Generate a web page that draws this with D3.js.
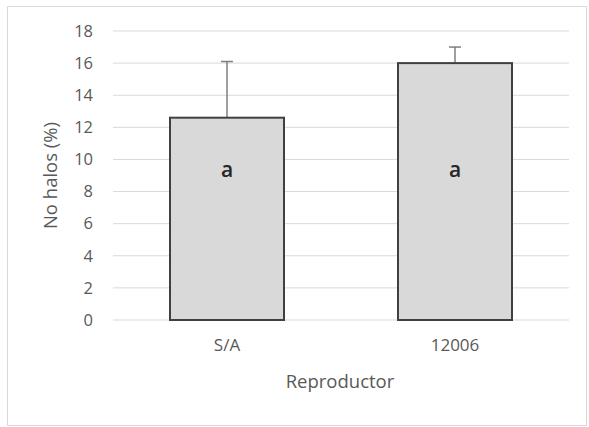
<!DOCTYPE html>
<html>
<head>
<meta charset="utf-8">
<script src="https://cdn.jsdelivr.net/npm/d3@7"></script>
<style>
  body { margin: 0; background: #fff; }
  text { font-family: "Open Sans", "Liberation Sans", sans-serif; }
</style>
</head>
<body>
<svg width="589" height="427"></svg>
<script>
const categories = ["S/A", "12006"]
const values = [12.6, 16.0]
const errors = [3.5, 1.0]
const letters = ["a", "a"]
const yTicks = [0, 2, 4, 6, 8, 10, 12, 14, 16, 18]

const svg = d3.select('svg')
const margin = { top: 31, left: 113, right: 20, bottom: 107 }
const width = 589, height = 427

// outer frame
svg.append('rect')
    .attr('x', 7.5).attr('y', 6.5)
    .attr('width', 579).attr('height', 419)
    .attr('fill', 'none').attr('stroke', '#d9d9d9').attr('stroke-width', 1)

const x = d3.scaleBand().domain(categories)
    .range([margin.left, width - margin.right]).paddingInner(0.5).paddingOuter(0.25)
const y = d3.scaleLinear().domain([0, 18]).range([height - margin.bottom, margin.top])

// gridlines
svg.append('g').selectAll('line').data(yTicks).enter().append('line')
    .attr('x1', margin.left).attr('x2', width - margin.right)
    .attr('y1', d => y(d)).attr('y2', d => y(d))
    .attr('stroke', '#d9d9d9').attr('stroke-width', 1)

// y axis labels
const yAxis = svg.append('g').attr('transform', `translate(${margin.left - 20},0)`)
    .call(d3.axisLeft(y).tickValues(yTicks).tickSize(0).tickPadding(0))
yAxis.select('.domain').remove()
yAxis.selectAll('text').attr('font-size', 16.5).attr('fill', '#595959')
    .attr('font-family', '"Open Sans", sans-serif')

// x axis labels
const xAxis = svg.append('g').attr('transform', `translate(0,${y(0)})`)
    .call(d3.axisBottom(x).tickSize(0).tickPadding(19))
xAxis.select('.domain').remove()
xAxis.selectAll('text').attr('font-size', 17).attr('fill', '#595959')
    .attr('font-family', '"Open Sans", sans-serif')

// error bars
const eb = svg.append('g').selectAll('g').data(categories).enter().append('g')
eb.append('line')
    .attr('x1', d => x(d) + x.bandwidth() / 2).attr('x2', d => x(d) + x.bandwidth() / 2)
    .attr('y1', (d, i) => y(values[i])).attr('y2', (d, i) => y(values[i] + errors[i]))
    .attr('stroke', '#7f7f7f').attr('stroke-width', 1.5)
eb.append('line')
    .attr('x1', d => x(d) + x.bandwidth() / 2 - 6).attr('x2', d => x(d) + x.bandwidth() / 2 + 6)
    .attr('y1', (d, i) => y(values[i] + errors[i])).attr('y2', (d, i) => y(values[i] + errors[i]))
    .attr('stroke', '#7f7f7f').attr('stroke-width', 1.5)

// bars
svg.append('g').selectAll('rect').data(categories).enter().append('rect')
    .attr('x', d => x(d))
    .attr('y', (d, i) => y(values[i]))
    .attr('width', x.bandwidth())
    .attr('height', (d, i) => y(0) - y(values[i]))
    .attr('fill', '#d9d9d9').attr('stroke', '#404040').attr('stroke-width', 2)

// letters
svg.append('g').selectAll('text').data(categories).enter().append('text')
    .attr('x', d => x(d) + x.bandwidth() / 2)
    .attr('y', y(9.25))
    .attr('text-anchor', 'middle').attr('dominant-baseline', 'middle')
    .attr('font-size', 21).attr('font-weight', 600).attr('fill', '#262626')
    .text((d, i) => letters[i])

// axis titles
svg.append('text')
    .attr('transform', `translate(52,175.5) rotate(-90)`)
    .attr('text-anchor', 'middle').attr('dominant-baseline', 'middle')
    .attr('font-size', 18.5).attr('fill', '#595959')
    .text('No halos (%)')
svg.append('text')
    .attr('x', 340).attr('y', 383)
    .attr('text-anchor', 'middle').attr('dominant-baseline', 'middle')
    .attr('font-size', 18.5).attr('fill', '#595959')
    .text('Reproductor')
</script>
</body>
</html>
